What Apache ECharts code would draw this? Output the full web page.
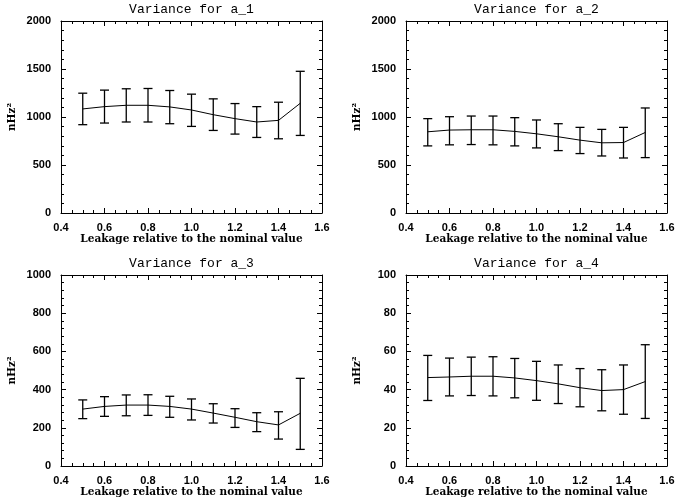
<!DOCTYPE html>
<html>
<head>
<meta charset="utf-8">
<script src="https://cdn.jsdelivr.net/npm/echarts@6/dist/echarts.min.js"></script>
<style>html,body{margin:0;padding:0;background:#fff;}#c{width:678px;height:504px;}</style>
</head>
<body>
<div id="c"></div>
<script>
const leakage = [0.5, 0.6, 0.7, 0.8, 0.9, 1.0, 1.1, 1.2, 1.3, 1.4, 1.5];

const a1Mean = [1084, 1108, 1122, 1122, 1105, 1073, 1024, 983, 948, 965, 1143];
const a1Low  = [920, 937, 948, 948, 930, 902, 860, 822, 787, 773, 808];
const a1High = [1248, 1280, 1294, 1297, 1276, 1238, 1189, 1140, 1108, 1154, 1476];

const a2Mean = [846, 864, 867, 867, 850, 825, 794, 759, 731, 734, 839];
const a2Low  = [699, 710, 713, 710, 699, 678, 650, 619, 594, 573, 577];
const a2High = [983, 1003, 1010, 1010, 993, 969, 930, 892, 871, 892, 1094];

const a3Mean = [298, 312, 319, 319, 312, 298, 277, 255, 232, 215, 276];
const a3Low  = [248, 260, 263, 265, 255, 241, 225, 202, 180, 141, 87];
const a3High = [346, 363, 372, 373, 365, 351, 326, 300, 279, 284, 459];

const a4Mean = [46.3, 46.6, 47.0, 47.0, 46.1, 44.7, 43.0, 41.0, 39.5, 40.0, 44.2];
const a4Low  = [34.3, 36.7, 36.9, 36.7, 35.7, 34.4, 32.7, 31.0, 28.9, 27.1, 24.9];
const a4High = [57.9, 56.5, 57.0, 57.2, 56.3, 54.8, 52.9, 51.0, 50.4, 52.9, 63.5];

const titles = ['Variance for a_1', 'Variance for a_2', 'Variance for a_3', 'Variance for a_4'];
const yMax = [2000, 2000, 1000, 100];
const yInterval = [500, 500, 200, 20];
const xTitle = 'Leakage relative to the nominal value';
const yTitle = 'nHz\u00b2';

const panels = [
  {mean: a1Mean, low: a1Low, high: a1High},
  {mean: a2Mean, low: a2Low, high: a2High},
  {mean: a3Mean, low: a3Low, high: a3High},
  {mean: a4Mean, low: a4Low, high: a4High}
];

const gridPos = [
  {left: 61, top: 21, width: 261, height: 192},
  {left: 406, top: 21, width: 261, height: 192},
  {left: 61, top: 275, width: 261, height: 191},
  {left: 406, top: 275, width: 261, height: 191}
];

const labelFont = {color: '#000', fontFamily: 'Liberation Sans', fontWeight: 'bold', fontSize: 11};
const nameFont = {color: '#000', fontFamily: 'DejaVu Serif', fontWeight: 'bold', fontSize: 10.5};
const lineStyle = {color: '#000', width: 1};

const grid = [], xAxis = [], yAxis = [], series = [], graphic = [];

panels.forEach((p, i) => {
  grid.push(Object.assign({containLabel: false}, gridPos[i]));
  const common = {
    axisLine: {show: true, onZero: false, lineStyle: lineStyle},
    axisTick: {show: true, inside: true, length: 5, lineStyle: lineStyle},
    splitLine: {show: false},
    minorSplitLine: {show: false}
  };
  xAxis.push(Object.assign({}, common, {
    type: 'value', gridIndex: i, position: 'bottom', min: 0.4, max: 1.6, interval: 0.2,
    minorTick: {show: true, splitNumber: 4, length: 3, lineStyle: lineStyle},
    axisLabel: Object.assign({margin: 9, formatter: v => v.toFixed(1)}, labelFont),
    name: xTitle, nameLocation: 'middle', nameGap: 20, nameTextStyle: nameFont
  }));
  xAxis.push(Object.assign({}, common, {
    type: 'value', gridIndex: i, position: 'top', min: 0.4, max: 1.6, interval: 0.2,
    minorTick: {show: true, splitNumber: 4, length: 3, lineStyle: lineStyle},
    axisLabel: {show: false}
  }));
  yAxis.push(Object.assign({}, common, {
    type: 'value', gridIndex: i, position: 'left', min: 0, max: yMax[i], interval: yInterval[i],
    minorTick: {show: true, splitNumber: 5, length: 3, lineStyle: lineStyle},
    axisLabel: Object.assign({margin: 10, formatter: v => String(v)}, labelFont),
    name: yTitle, nameLocation: 'middle', nameGap: 43, nameTextStyle: nameFont
  }));
  yAxis.push(Object.assign({}, common, {
    type: 'value', gridIndex: i, position: 'right', min: 0, max: yMax[i], interval: yInterval[i],
    minorTick: {show: true, splitNumber: 5, length: 3, lineStyle: lineStyle},
    axisLabel: {show: false}
  }));

  series.push({
    type: 'line', xAxisIndex: 2 * i, yAxisIndex: 2 * i,
    data: leakage.map((x, k) => [x, p.mean[k]]),
    symbol: 'none', lineStyle: {color: '#000', width: 1}, silent: true, animation: false
  });
  series.push({
    type: 'custom', xAxisIndex: 2 * i, yAxisIndex: 2 * i,
    data: leakage.map((x, k) => [x, p.low[k], p.high[k]]),
    animation: false, silent: true,
    renderItem: function (params, api) {
      const lo = api.coord([api.value(0), api.value(1)]);
      const hi = api.coord([api.value(0), api.value(2)]);
      const hw = 4.5;
      const st = {stroke: '#000', lineWidth: 1.3};
      return {
        type: 'group',
        children: [
          {type: 'line', shape: {x1: lo[0], y1: lo[1], x2: hi[0], y2: hi[1]}, style: st},
          {type: 'line', shape: {x1: lo[0] - hw, y1: lo[1], x2: lo[0] + hw, y2: lo[1]}, style: st},
          {type: 'line', shape: {x1: hi[0] - hw, y1: hi[1], x2: hi[0] + hw, y2: hi[1]}, style: st}
        ]
      };
    }
  });

  graphic.push({
    type: 'text',
    x: gridPos[i].left + gridPos[i].width / 2,
    y: gridPos[i].top - 11,
    style: {
      text: titles[i], fill: '#000', font: '13px "Liberation Mono"',
      textAlign: 'center', textVerticalAlign: 'middle'
    }
  });
});

const chart = echarts.init(document.getElementById('c'), null, {renderer: 'canvas'});
chart.setOption({
  backgroundColor: '#fff',
  animation: false,
  grid: grid, xAxis: xAxis, yAxis: yAxis, series: series, graphic: graphic
});
</script>
</body>
</html>
